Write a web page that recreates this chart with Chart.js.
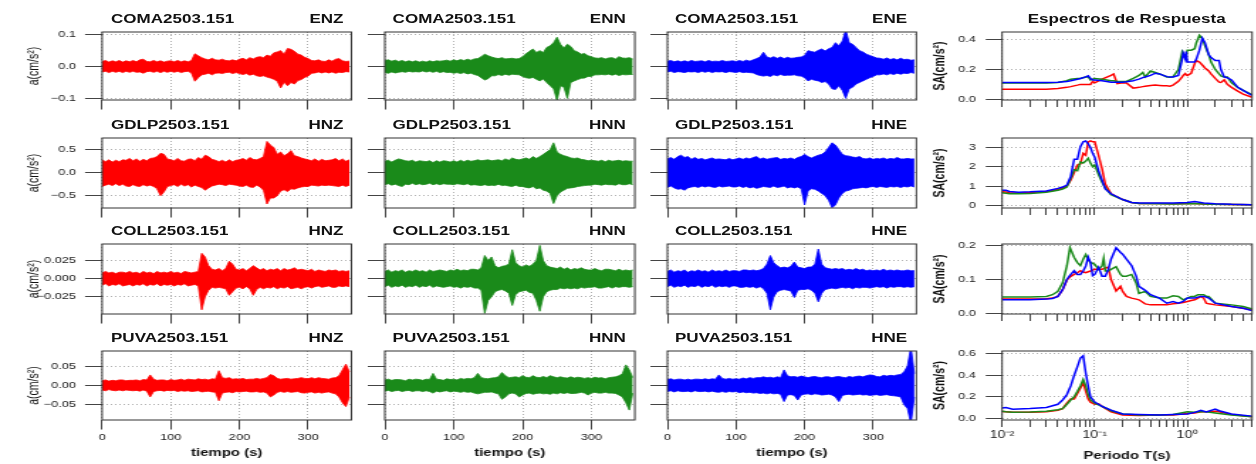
<!DOCTYPE html>
<html><head><meta charset="utf-8">
<script src="https://cdn.jsdelivr.net/npm/chart.js"></script>
<style>
html,body{margin:0;padding:0;background:#fff;}
body{width:1256px;height:464px;overflow:hidden;position:relative;}
#stage{position:absolute;left:0;top:0;width:884.5px;height:464px;transform:scaleX(1.42);transform-origin:0 0;}
.tt{position:absolute;font:bold 12px "Liberation Sans",Arial,sans-serif;color:#111;white-space:nowrap;line-height:12px;}
</style></head><body><div id="stage"></div>
<script>
// ---------------- DATA ----------------
const TIME = [0,5,10,15,20,25,30,35,40,45,50,55,60,65,70,75,80,85,90,95,100,105,110,115,120,125,130,135,140,145,150,155,160,165,170,175,180,185,190,195,200,205,210,215,220,225,230,235,240,245,250,255,260,265,270,275,280,285,290,295,300,305,310,315,320,325,330,335,340,345,350,355,360];
const TIME_MAX = 363;
const TIME_TICKS = [0,100,200,300];
const TIME_TICK_LABELS = ['0','100','200','300'];

// Row 1: COMA
const COMA_Z_UP = [.016,.019,.014,.018,.015,.019,.014,.018,.015,.019, .015,.021,.023,.016,.015,.019,.015,.018,.014,.017, .018,.015,.019,.015,.018,.015,.019,.04,.034,.028, .024,.021,.026,.021,.02,.023,.019,.018,.021,.018, .023,.026,.021,.028,.024,.029,.031,.028,.036,.032, .043,.046,.05,.039,.057,.054,.048,.039,.036,.029, .025,.019,.018,.021,.017,.016,.021,.017,.023,.025, .018,.016,.017];
const COMA_Z_LO = [-.017,-.015,-.019,-.015,-.018,-.015,-.019,-.015,-.018,-.015, -.018,-.017,-.021,-.016,-.015,-.018,-.015,-.019,-.015,-.018, -.015,-.018,-.015,-.019,-.016,-.015,-.02,-.046,-.035,-.026, -.024,-.021,-.026,-.021,-.02,-.022,-.019,-.018,-.022,-.019, -.022,-.025,-.022,-.027,-.024,-.029,-.031,-.029,-.033,-.036, -.04,-.046,-.067,-.049,-.06,-.05,-.055,-.044,-.041,-.034, -.03,-.021,-.02,-.017,-.02,-.017,-.02,-.017,-.021,-.018, -.019,-.016,-.017];
const COMA_N_UP = [.019,.021,.017,.02,.016,.019,.015,.018,.015,.018, .014,.017,.014,.018,.015,.018,.017,.018,.02,.017, .021,.018,.022,.019,.023,.02,.024,.025,.031,.039, .034,.03,.027,.025,.028,.024,.025,.026,.024,.025, .031,.04,.048,.055,.044,.05,.044,.06,.065,.075, .092,.07,.058,.07,.063,.05,.046,.039,.041,.034, .031,.027,.026,.028,.024,.027,.028,.024,.031,.027, .026,.028,.024];
const COMA_N_LO = [-.019,-.021,-.017,-.02,-.018,-.016,-.018,-.015,-.017,-.016, -.017,-.014,-.017,-.015,-.018,-.015,-.019,-.016,-.019,-.018, -.021,-.019,-.022,-.019,-.023,-.021,-.025,-.028,-.035,-.042, -.038,-.029,-.029,-.025,-.028,-.024,-.027,-.024,-.025,-.026, -.031,-.035,-.037,-.034,-.04,-.045,-.039,-.05,-.06,-.07, -.106,-.06,-.065,-.1,-.05,-.045,-.041,-.037,-.036,-.031, -.031,-.026,-.026,-.025,-.026,-.024,-.027,-.024,-.028,-.025, -.026,-.025,-.025];
const COMA_E_UP = [.017,.019,.015,.018,.015,.018,.015,.019,.016,.017, .018,.015,.019,.016,.017,.016,.019,.016,.017,.018, .016,.019,.016,.02,.017,.021,.025,.03,.045,.03, .027,.031,.026,.03,.025,.029,.026,.027,.029,.03, .035,.05,.047,.045,.051,.055,.049,.056,.06,.075, .065,.08,.115,.075,.07,.06,.05,.046,.039,.035, .031,.027,.026,.023,.027,.022,.025,.021,.026,.022, .023,.02,.021];
const COMA_E_LO = [-.017,-.015,-.019,-.016,-.017,-.019,-.016,-.017,-.016,-.019, -.015,-.018,-.015,-.019,-.016,-.017,-.016,-.019,-.016,-.017, -.019,-.016,-.019,-.018,-.019,-.02,-.025,-.028,-.03,-.028, -.031,-.026,-.029,-.025,-.028,-.027,-.027,-.026,-.029,-.03, -.035,-.045,-.04,-.043,-.045,-.05,-.047,-.055,-.07,-.072, -.06,-.075,-.1,-.07,-.065,-.055,-.05,-.045,-.04,-.035, -.031,-.026,-.026,-.023,-.026,-.022,-.025,-.021,-.024,-.021, -.022,-.019,-.021];

// Row 2: GDLP
const GDLP_Z_UP = [.28,.24,.28,.23,.27,.24,.28,.27,.31,.26, .3,.25,.29,.26,.31,.32,.35,.42,.4,.3, .28,.26,.31,.26,.25,.29,.3,.26,.33,.29, .38,.35,.29,.27,.24,.27,.23,.28,.24,.27, .28,.31,.27,.33,.29,.28,.31,.35,.68,.6, .55,.4,.45,.37,.41,.48,.37,.35,.32,.3, .28,.26,.3,.25,.29,.26,.27,.28,.31,.26, .3,.25,.28];
const GDLP_Z_LO = [-.3,-.27,-.25,-.28,-.24,-.28,-.25,-.29,-.3,-.26, -.29,-.3,-.26,-.29,-.27,-.3,-.35,-.5,-.42,-.3, -.28,-.26,-.3,-.25,-.29,-.26,-.31,-.27,-.3,-.32, -.38,-.33,-.29,-.27,-.25,-.26,-.28,-.25,-.26,-.27, -.29,-.3,-.27,-.31,-.32,-.27,-.31,-.38,-.68,-.55, -.55,-.5,-.4,-.37,-.41,-.35,-.36,-.33,-.31,-.3, -.3,-.27,-.28,-.29,-.27,-.28,-.27,-.28,-.29,-.3, -.27,-.3,-.27];
const GDLP_N_UP = [.25,.27,.23,.27,.3,.28,.26,.25,.27,.23, .26,.25,.24,.26,.22,.26,.23,.26,.25,.23, .26,.23,.27,.24,.27,.25,.26,.28,.26,.27, .28,.26,.27,.28,.26,.3,.27,.32,.29,.28, .3,.32,.29,.35,.31,.35,.4,.45,.5,.65, .45,.4,.37,.35,.32,.31,.32,.29,.28,.26, .27,.26,.25,.27,.24,.27,.25,.26,.27,.25, .26,.25,.25];
const GDLP_N_LO = [-.26,-.24,-.27,-.25,-.28,-.3,-.25,-.26,-.23,-.26, -.24,-.26,-.25,-.23,-.26,-.24,-.26,-.24,-.25,-.25, -.26,-.24,-.25,-.26,-.24,-.27,-.26,-.27,-.28,-.26, -.28,-.27,-.28,-.25,-.28,-.27,-.29,-.3,-.27,-.3, -.3,-.32,-.33,-.3,-.35,-.33,-.38,-.4,-.45,-.67, -.5,-.42,-.38,-.34,-.33,-.32,-.3,-.29,-.28,-.27, -.27,-.25,-.26,-.27,-.25,-.26,-.26,-.27,-.24,-.26, -.26,-.24,-.26];
const GDLP_E_UP = [.3,.33,.29,.35,.38,.33,.35,.29,.33,.29, .31,.28,.3,.32,.29,.3,.29,.28,.31,.28, .3,.32,.29,.32,.3,.33,.35,.3,.32,.29, .31,.32,.33,.29,.31,.3,.32,.29,.33,.35, .4,.35,.32,.35,.38,.4,.45,.55,.65,.6, .5,.4,.37,.36,.34,.33,.35,.31,.3,.32, .29,.31,.3,.32,.29,.31,.3,.33,.3,.3, .31,.3,.3];
const GDLP_E_LO = [-.32,-.29,-.33,-.36,-.35,-.38,-.33,-.31,-.3,-.32, -.29,-.31,-.29,-.31,-.32,-.29,-.31,-.3,-.29,-.31, -.31,-.29,-.32,-.3,-.33,-.31,-.34,-.32,-.3,-.31, -.32,-.29,-.32,-.31,-.29,-.33,-.31,-.33,-.31,-.35, -.7,-.4,-.35,-.36,-.4,-.45,-.5,-.6,-.76,-.7, -.55,-.45,-.4,-.38,-.35,-.34,-.33,-.32,-.33,-.31, -.3,-.32,-.3,-.31,-.32,-.3,-.31,-.3,-.32,-.3, -.31,-.29,-.31];

// Row 3: COLL
const COLL_Z_UP = [.008,.01,.008,.009,.007,.009,.009,.008,.01,.008, .009,.007,.01,.008,.009,.007,.01,.008,.009,.008, .01,.008,.009,.007,.01,.009,.008,.009,.01,.035, .03,.018,.013,.012,.014,.011,.014,.024,.02,.013, .012,.014,.011,.014,.018,.015,.012,.014,.011,.013, .012,.014,.011,.014,.012,.013,.015,.012,.013,.012, .011,.013,.01,.012,.011,.01,.012,.011,.012,.01, .011,.01,.011];
const COLL_Z_LO = [-.009,-.007,-.01,-.008,-.009,-.007,-.01,-.009,-.008,-.01, -.008,-.009,-.007,-.01,-.008,-.009,-.007,-.01,-.008,-.009, -.008,-.01,-.008,-.009,-.007,-.01,-.009,-.008,-.01,-.043, -.025,-.016,-.012,-.013,-.012,-.013,-.014,-.023,-.018,-.013, -.012,-.014,-.011,-.014,-.023,-.015,-.012,-.014,-.012,-.013, -.011,-.014,-.012,-.013,-.011,-.014,-.013,-.012,-.014,-.012, -.011,-.013,-.011,-.01,-.012,-.011,-.01,-.012,-.012,-.01, -.011,-.01,-.011];
const COLL_N_UP = [.01,.012,.009,.011,.01,.012,.009,.011,.01,.012, .01,.011,.009,.012,.01,.011,.012,.011,.01,.012, .011,.013,.011,.012,.011,.013,.013,.012,.015,.032, .025,.03,.018,.015,.017,.018,.02,.04,.022,.018, .016,.019,.017,.02,.025,.046,.025,.018,.016,.015, .014,.016,.013,.015,.012,.014,.013,.015,.013,.012, .012,.014,.012,.011,.013,.013,.012,.011,.013,.011, .012,.011,.012];
const COLL_N_LO = [-.011,-.009,-.012,-.01,-.011,-.009,-.012,-.01,-.011,-.009, -.012,-.01,-.011,-.009,-.012,-.01,-.011,-.012,-.011,-.01, -.012,-.011,-.013,-.011,-.012,-.011,-.013,-.013,-.016,-.048, -.03,-.025,-.018,-.016,-.015,-.017,-.02,-.037,-.022,-.018, -.017,-.016,-.019,-.02,-.03,-.045,-.025,-.018,-.016,-.015, -.015,-.013,-.014,-.013,-.014,-.013,-.014,-.012,-.013,-.012, -.012,-.011,-.013,-.013,-.012,-.011,-.013,-.011,-.012,-.011, -.011,-.012,-.011];
const COLL_E_UP = [.01,.012,.009,.011,.01,.012,.009,.011,.01,.012, .01,.011,.009,.012,.01,.011,.01,.012,.01,.011, .011,.01,.012,.012,.011,.012,.011,.012,.014,.02, .032,.022,.018,.015,.016,.015,.017,.023,.016,.015, .014,.016,.016,.02,.041,.02,.015,.014,.013,.014, .013,.014,.012,.013,.012,.014,.012,.013,.011,.012, .011,.012,.011,.013,.011,.012,.011,.012,.011,.011, .012,.011,.011];
const COLL_E_LO = [-.011,-.009,-.012,-.01,-.011,-.009,-.012,-.01,-.011,-.009, -.012,-.01,-.011,-.009,-.012,-.01,-.011,-.01,-.012,-.01, -.01,-.012,-.012,-.011,-.012,-.011,-.013,-.011,-.014,-.02, -.043,-.025,-.018,-.016,-.015,-.016,-.017,-.026,-.016,-.015, -.015,-.014,-.016,-.02,-.032,-.02,-.015,-.014,-.013,-.014, -.013,-.012,-.013,-.012,-.014,-.012,-.013,-.012,-.012,-.013, -.012,-.011,-.012,-.011,-.013,-.011,-.012,-.011,-.011,-.012, -.011,-.012,-.011];

// Row 4: PUVA
const PUVA_Z_UP = [.012,.014,.011,.013,.012,.014,.014,.012,.013,.013, .014,.012,.015,.014,.027,.016,.013,.014,.014,.012, .015,.013,.014,.016,.013,.016,.015,.014,.017,.015, .016,.014,.017,.016,.038,.02,.018,.02,.016,.017, .016,.018,.015,.016,.016,.018,.016,.018,.02,.028, .025,.018,.016,.017,.018,.016,.017,.018,.02,.018, .017,.02,.017,.02,.018,.017,.016,.019,.02,.025, .04,.055,.035];
const PUVA_Z_LO = [-.012,-.014,-.011,-.013,-.014,-.012,-.014,-.012,-.013,-.014, -.013,-.015,-.012,-.015,-.03,-.016,-.014,-.013,-.015,-.013, -.014,-.013,-.016,-.014,-.015,-.014,-.016,-.015,-.014,-.017, -.016,-.015,-.017,-.018,-.04,-.02,-.018,-.017,-.019,-.016, -.017,-.016,-.015,-.017,-.017,-.016,-.018,-.017,-.02,-.03, -.025,-.018,-.016,-.018,-.016,-.018,-.017,-.016,-.019,-.02, -.018,-.017,-.02,-.018,-.02,-.018,-.017,-.02,-.022,-.03, -.045,-.055,-.03];
const PUVA_N_UP = [.014,.016,.013,.015,.015,.014,.012,.016,.014,.016, .015,.013,.016,.015,.031,.016,.015,.013,.017,.015, .016,.014,.018,.016,.018,.017,.02,.031,.02,.018, .017,.019,.02,.022,.033,.025,.02,.021,.022,.02, .025,.021,.02,.025,.021,.02,.023,.02,.025,.022, .02,.022,.02,.019,.022,.019,.021,.02,.018,.02, .018,.021,.019,.02,.017,.02,.021,.022,.025,.03, .053,.04,.02];
const PUVA_N_LO = [-.015,-.013,-.016,-.014,-.013,-.016,-.014,-.013,-.016,-.014, -.014,-.016,-.014,-.016,-.02,-.015,-.017,-.015,-.014,-.017, -.015,-.016,-.018,-.016,-.018,-.017,-.02,-.022,-.02,-.018, -.018,-.017,-.02,-.022,-.036,-.03,-.022,-.02,-.022,-.03, -.025,-.021,-.02,-.023,-.021,-.02,-.022,-.021,-.023,-.02, -.022,-.019,-.021,-.019,-.021,-.021,-.02,-.018,-.02,-.025, -.02,-.018,-.02,-.02,-.018,-.02,-.02,-.021,-.025,-.03, -.045,-.064,-.02];
const PUVA_E_UP = [.015,.017,.014,.016,.016,.014,.016,.014,.016,.016, .015,.017,.015,.017,.016,.027,.018,.016,.018,.016, .017,.016,.019,.017,.02,.018,.02,.02,.022,.02, .021,.019,.022,.02,.04,.025,.022,.023,.021,.024, .022,.02,.022,.023,.021,.02,.022,.022,.02,.022, .023,.021,.02,.023,.021,.023,.024,.022,.025,.027, .026,.023,.022,.026,.024,.026,.025,.027,.028,.035, .05,.1,.03];
const PUVA_E_LO = [-.016,-.014,-.017,-.014,-.016,-.016,-.015,-.017,-.014,-.016, -.016,-.015,-.017,-.015,-.017,-.018,-.016,-.018,-.016,-.017, -.016,-.019,-.017,-.019,-.018,-.02,-.019,-.021,-.02,-.022, -.02,-.022,-.021,-.023,-.042,-.025,-.024,-.026,-.038,-.025, -.023,-.022,-.024,-.022,-.023,-.025,-.024,-.023,-.025,-.03, -.042,-.026,-.024,-.023,-.025,-.024,-.023,-.025,-.024,-.026, -.025,-.024,-.026,-.025,-.024,-.026,-.027,-.028,-.03,-.05, -.06,-.1,-.03];

// time-series y axes per row
const TS_YRANGE = [[-0.105,0.1085],[-0.767,0.754],[-0.0488,0.0479],[-0.0896,0.0889]];
const TS_YTICKS = [[-0.1,0,0.1],[-0.5,0,0.5],[-0.025,0,0.025],[-0.05,0,0.05]];
const TS_YLABELS = [['\u22120.1','0.0','0.1'],['\u22120.5','0.0','0.5'],['\u22120.025','0.000','0.025'],['\u22120.05','0.00','0.05']];

// response spectra
const R1_T = [0.01,0.02,0.03,0.04,0.05,0.055,0.065,0.07,0.08,0.085,0.09,0.095,0.1,0.12,0.15,0.16,0.175,0.2,0.22,0.26,0.28,0.3,0.33,0.35,0.4,0.45,0.5,0.55,0.6,0.65,0.7,0.8,0.88,0.9,0.95,0.97,1.0,1.1,1.2,1.25,1.35,1.45,1.55,1.7,1.8,2.0,2.2,2.3,2.5,2.7,3.0,3.5,4.0,5.0];
const R1_SA_Z = [0.068,0.068,0.068,0.072,0.08, 0.085,0.095,0.1,0.1,0.1, 0.1,0.12,0.11,0.135,0.16, 0.17,0.105,0.11,0.11,0.075, 0.078,0.08,0.085,0.088,0.092, 0.095,0.093,0.09,0.09,0.088, 0.095,0.12,0.15,0.16,0.172, 0.165,0.16,0.175,0.24,0.26, 0.25,0.23,0.21,0.19,0.17, 0.14,0.115,0.113,0.13,0.1, 0.08,0.055,0.035,0.013];
const R1_SA_N = [0.11,0.11,0.11,0.112,0.125, 0.135,0.14,0.14,0.15,0.152, 0.13,0.135,0.14,0.135,0.125, 0.125,0.12,0.12,0.12,0.14, 0.15,0.16,0.18,0.15,0.19, 0.18,0.17,0.16,0.15,0.148, 0.15,0.2,0.32,0.31,0.28, 0.29,0.33,0.33,0.34,0.38, 0.43,0.41,0.36,0.3,0.25, 0.2,0.17,0.157,0.15,0.15, 0.11,0.08,0.06,0.03];
const R1_SA_E = [0.113,0.113,0.113,0.115,0.12, 0.125,0.135,0.14,0.15,0.157, 0.14,0.13,0.13,0.125,0.115, 0.115,0.115,0.115,0.118,0.125, 0.13,0.135,0.145,0.15,0.16, 0.175,0.17,0.16,0.152,0.15, 0.15,0.16,0.27,0.31,0.27, 0.32,0.25,0.25,0.25,0.27, 0.33,0.41,0.38,0.3,0.28, 0.26,0.26,0.2,0.15,0.145, 0.13,0.08,0.06,0.025];

const R2_T = [0.01,0.011,0.012,0.015,0.02,0.03,0.04,0.045,0.05,0.055,0.06,0.065,0.07,0.075,0.08,0.085,0.09,0.095,0.1,0.11,0.12,0.13,0.15,0.2,0.25,0.3,0.5,0.7,1.0,1.2,1.5,2.0,3.0,5.0];
const R2_SA_Z = [0.7,0.69,0.65,0.64,0.66, 0.72,0.82,0.9,1.0,1.3, 1.7,2.1,2.15,2.7,2.6, 3.3,3.35,3.3,3.3,2.6, 1.9,1.1,0.6,0.3,0.15, 0.1,0.1,0.08,0.09,0.09, 0.07,0.06,0.04,0.03];
const R2_SA_N = [0.65,0.63,0.6,0.6,0.62, 0.68,0.78,0.85,0.95,1.4, 1.85,1.8,2.25,2.2,2.3, 2.45,2.2,2.0,2.1,1.6, 1.2,0.9,0.55,0.3,0.15, 0.1,0.08,0.07,0.08,0.1, 0.07,0.05,0.04,0.03];
const R2_SA_E = [0.78,0.78,0.72,0.68,0.7, 0.75,0.88,0.95,1.05,1.5, 2.4,2.4,3.05,3.3,3.35, 3.2,3.0,2.7,2.5,1.8, 1.3,0.85,0.6,0.3,0.15, 0.12,0.12,0.12,0.15,0.2, 0.12,0.08,0.05,0.03];

const R3_T = [0.01,0.02,0.03,0.035,0.04,0.045,0.05,0.054,0.06,0.065,0.07,0.075,0.08,0.085,0.09,0.095,0.1,0.11,0.12,0.125,0.13,0.14,0.15,0.17,0.19,0.2,0.22,0.25,0.28,0.3,0.35,0.4,0.5,0.6,0.7,0.8,0.9,1.0,1.1,1.2,1.3,1.4,1.5,1.6,1.7,2.0,3.0,4.0,5.0];
const R3_SA_Z = [0.042,0.042,0.043,0.045,0.05, 0.07,0.098,0.108,0.115,0.12, 0.126,0.122,0.12,0.123,0.125, 0.128,0.13,0.13,0.13,0.132, 0.134,0.136,0.1,0.066,0.08, 0.065,0.05,0.045,0.042,0.04, 0.028,0.025,0.025,0.025,0.028, 0.03,0.032,0.035,0.038,0.04, 0.045,0.05,0.045,0.03,0.028, 0.025,0.02,0.015,0.01];
const R3_SA_N = [0.048,0.048,0.05,0.055,0.065, 0.09,0.14,0.194,0.165,0.15, 0.141,0.16,0.174,0.16,0.15, 0.148,0.145,0.13,0.14,0.163, 0.125,0.125,0.13,0.138,0.115, 0.11,0.11,0.115,0.09,0.059, 0.065,0.05,0.045,0.045,0.052, 0.05,0.04,0.045,0.05,0.05, 0.055,0.055,0.055,0.05,0.05, 0.03,0.025,0.02,0.013];
const R3_SA_E = [0.04,0.04,0.042,0.044,0.05, 0.07,0.1,0.112,0.126,0.115, 0.115,0.125,0.14,0.166,0.15, 0.111,0.115,0.136,0.11,0.11, 0.11,0.13,0.16,0.194,0.18, 0.175,0.16,0.141,0.11,0.08, 0.068,0.055,0.045,0.03,0.035, 0.03,0.035,0.045,0.045,0.045, 0.048,0.05,0.05,0.048,0.045, 0.03,0.02,0.015,0.008];

const R4_T = [0.01,0.011,0.013,0.02,0.03,0.04,0.045,0.05,0.055,0.06,0.065,0.07,0.075,0.08,0.085,0.09,0.1,0.11,0.12,0.15,0.2,0.3,0.5,0.7,1.0,1.2,1.4,1.6,2.0,2.2,3.0,5.0];
const R4_SA_Z = [0.062,0.06,0.055,0.055,0.06, 0.075,0.09,0.14,0.18,0.18, 0.23,0.28,0.33,0.25,0.18, 0.15,0.13,0.135,0.11,0.06, 0.03,0.025,0.03,0.03,0.045, 0.05,0.06,0.06,0.065,0.06, 0.035,0.015];
const R4_SA_N = [0.065,0.06,0.055,0.058,0.065, 0.08,0.09,0.13,0.17,0.2, 0.25,0.3,0.36,0.3,0.22, 0.17,0.14,0.125,0.11,0.07, 0.04,0.03,0.03,0.035,0.06, 0.055,0.06,0.06,0.05,0.045, 0.03,0.015];
const R4_SA_E = [0.095,0.1,0.085,0.09,0.1, 0.13,0.17,0.22,0.3,0.4, 0.48,0.56,0.58,0.42,0.3, 0.2,0.15,0.13,0.11,0.075, 0.04,0.035,0.03,0.035,0.04, 0.055,0.075,0.06,0.085,0.07, 0.04,0.02];

const SP_YRANGE = [[-0.005,0.452],[-0.14,3.5],[-0.002,0.205],[-0.016,0.625]];
const SP_YTICKS = [[0,0.2,0.4],[0,1,2,3],[0,0.1,0.2],[0,0.2,0.4,0.6]];
const SP_YLABELS = [['0.0','0.2','0.4'],['0','1','2','3'],['0.0','0.1','0.2'],['0.0','0.2','0.4','0.6']];
const LOG_TICKS = [0.01,0.02,0.03,0.04,0.05,0.06,0.07,0.08,0.09,0.1,0.2,0.3,0.4,0.5,0.6,0.7,0.8,0.9,1,2,3,4,5];
const LOG_MAJOR = [0.01,0.1,1];
const LOG_LABELS = ['10\u207B\u00B2','10\u207B\u00B9','10\u2070'];

const STATIONS = ['COMA2503.151','GDLP2503.151','COLL2503.151','PUVA2503.151'];
const COMPONENTS = [['ENZ','ENN','ENE'],['HNZ','HNN','HNE'],['HNZ','HNN','HNE'],['HNZ','HNN','HNE']];

// ---------------- LAYOUT ----------------
const S = 1.42;
const FONT = '"Liberation Sans", Arial, Helvetica, sans-serif';
const COLS_X = [[102.7,352],[384.3,634.3],[666.7,915.7],[1001.7,1251.7]];
const ROWS_Y = [[32,100],[138,208],[244,314],[351,420]];
const RED = '#ff0000', GREEN = '#1a8a1a', BLUE = '#0000ff';
const GRID = '#b0b0b0', TICKC = '#444', LABC = '#222';
const stage = document.getElementById('stage');

const framePlugin = {id:'frame', afterDraw(chart){
  const {ctx, chartArea:a} = chart;
  ctx.save(); ctx.strokeStyle = '#333'; ctx.lineWidth = 1; ctx.setLineDash([]);
  ctx.strokeRect(a.left, a.top, a.right - a.left, a.bottom - a.top);
  ctx.restore();
}};

function makeCanvas(col,row,L,Bm){
  const pl = COLS_X[col][0]/S, pr = COLS_X[col][1]/S;
  const pt = ROWS_Y[row][0], pb = ROWS_Y[row][1];
  const TM = 14, RM = 6;
  const w = Math.ceil(L + (pr-pl) + RM), h = Math.ceil(TM + (pb-pt) + Bm);
  const c = document.createElement('canvas');
  c.width = w; c.height = h;
  Object.assign(c.style,{position:'absolute',left:(pl-L)+'px',top:(pt-TM)+'px',width:w+'px',height:h+'px'});
  stage.appendChild(c);
  return {c, padding:{left:0, top:TM, right:w - L - (pr-pl), bottom:h - TM - (pb-pt) - Bm}};
}

function gridOpts(len){
  return {color:GRID, lineWidth:1, drawTicks:true, tickLength:len, tickColor:TICKC, tickWidth:1, tickBorderDash:[]};
}

function timeChart(col,row,up,lo,color){
  const L = col===0 ? 53.9 : 14;
  const Bm = row===3 ? 39.3 : 14;
  const {c,padding} = makeCanvas(col,row,L,Bm);
  const yt = TS_YTICKS[row], ytl = TS_YLABELS[row];
  new Chart(c,{
    type:'line',
    data:{datasets:[
      {data:TIME.map((t,i)=>({x:t,y:up[i]})), borderColor:color, backgroundColor:color, borderWidth:0.8, pointRadius:0, fill:'+1', tension:0},
      {data:TIME.map((t,i)=>({x:t,y:lo[i]})), borderColor:color, backgroundColor:color, borderWidth:0.8, pointRadius:0, fill:false, tension:0}
    ]},
    options:{
      responsive:false, animation:false, events:[],
      layout:{padding},
      plugins:{legend:{display:false}, tooltip:{enabled:false}, title:{display:false}},
      scales:{
        x:{type:'linear', min:0, max:TIME_MAX, bounds:'data',
          afterBuildTicks:s=>{s.ticks = TIME_TICKS.map(v=>({value:v}));},
          afterFit:s=>{s.height = Bm;},
          ticks:{display:row===3, autoSkip:false, maxRotation:0, padding:2.5, color:LABC, font:{family:FONT,size:9}, callback:(v,i)=>TIME_TICK_LABELS[i]},
          grid:gridOpts(9.5), border:{display:false, dash:[1,2]},
          title:{display:row===3, text:'tiempo (s)', color:'#111', font:{family:FONT,size:10.5,weight:'bold'}, padding:0}},
        y:{type:'linear', min:TS_YRANGE[row][0], max:TS_YRANGE[row][1], bounds:'data',
          afterBuildTicks:s=>{s.ticks = yt.map(v=>({value:v}));},
          afterFit:s=>{s.width = L;},
          ticks:{display:col===0, autoSkip:false, padding:6.3, color:LABC, font:{family:FONT,size:9}, callback:(v,i)=>ytl[i]},
          grid:gridOpts(12), border:{display:false, dash:[1,2]},
          title:{display:col===0, text:'a(cm/s\u00B2)', color:'#111', font:{family:FONT,size:10.5}, padding:0}}
      }
    },
    plugins:[framePlugin]
  });
}

function specChart(row,T,z,n,e){
  const L = 49.7;
  const Bm = row===3 ? 42.3 : 14;
  const {c,padding} = makeCanvas(3,row,L,Bm);
  const yt = SP_YTICKS[row], ytl = SP_YLABELS[row];
  const ds = (vals,color)=>({data:T.map((t,i)=>({x:t,y:vals[i]})), borderColor:color, backgroundColor:color, borderWidth:1.5, pointRadius:0, fill:false, tension:0});
  new Chart(c,{
    type:'line',
    data:{datasets:[ds(e,BLUE), ds(n,GREEN), ds(z,RED)]},
    options:{
      responsive:false, animation:false, events:[],
      layout:{padding},
      plugins:{legend:{display:false}, tooltip:{enabled:false}, title:{display:false}},
      scales:{
        x:{type:'logarithmic', min:0.01, max:5, bounds:'data',
          afterBuildTicks:s=>{s.ticks = LOG_TICKS.map(v=>({value:v, major:LOG_MAJOR.includes(v)}));},
          afterFit:s=>{s.height = Bm;},
          ticks:{display:row===3, autoSkip:false, maxRotation:0, padding:2.5, color:LABC, font:{family:FONT,size:10}, major:{enabled:false},
            callback:(v,i)=>{const k = LOG_MAJOR.indexOf(LOG_TICKS[i]); return k>=0 ? LOG_LABELS[k] : '';}},
          grid:{...gridOpts(7), color:ctx=>(ctx.tick && LOG_MAJOR.includes(ctx.tick.value)) ? GRID : 'rgba(0,0,0,0)'},
          border:{display:false, dash:[1,2]},
          title:{display:row===3, text:'Periodo T(s)', color:'#111', font:{family:FONT,size:10.5,weight:'bold'}, padding:0}},
        y:{type:'linear', min:SP_YRANGE[row][0], max:SP_YRANGE[row][1], bounds:'data',
          afterBuildTicks:s=>{s.ticks = yt.map(v=>({value:v}));},
          afterFit:s=>{s.width = L;},
          ticks:{display:true, autoSkip:false, padding:7, color:LABC, font:{family:FONT,size:9}, callback:(v,i)=>ytl[i]},
          grid:gridOpts(11.5), border:{display:false, dash:[1,2]},
          title:{display:true, text:'SA(cm/s\u00B2)', color:'#111', font:{family:FONT,size:10.5,weight:'bold'}, padding:0}}
      }
    },
    plugins:[framePlugin]
  });
}

function addText(txt, x, yc, align){
  const d = document.createElement('div');
  d.className = 'tt'; d.textContent = txt;
  d.style.left = x + 'px'; d.style.top = (yc - 6) + 'px';
  if (align === 'right') d.style.transform = 'translateX(-100%)';
  if (align === 'center') d.style.transform = 'translateX(-50%)';
  stage.appendChild(d);
}

// ---------------- BUILD ----------------
const TS = [
  [[COMA_Z_UP,COMA_Z_LO],[COMA_N_UP,COMA_N_LO],[COMA_E_UP,COMA_E_LO]],
  [[GDLP_Z_UP,GDLP_Z_LO],[GDLP_N_UP,GDLP_N_LO],[GDLP_E_UP,GDLP_E_LO]],
  [[COLL_Z_UP,COLL_Z_LO],[COLL_N_UP,COLL_N_LO],[COLL_E_UP,COLL_E_LO]],
  [[PUVA_Z_UP,PUVA_Z_LO],[PUVA_N_UP,PUVA_N_LO],[PUVA_E_UP,PUVA_E_LO]]
];
const COLORS = [RED, GREEN, BLUE];
for (let r = 0; r < 4; r++){
  for (let cc = 0; cc < 3; cc++){
    timeChart(cc, r, TS[r][cc][0], TS[r][cc][1], COLORS[cc]);
    addText(STATIONS[r], (COLS_X[cc][0] + 8.3)/S, ROWS_Y[r][0] - 13, 'left');
    addText(COMPONENTS[r][cc], (COLS_X[cc][1] - 8.5)/S, ROWS_Y[r][0] - 13, 'right');
  }
}
specChart(0, R1_T, R1_SA_Z, R1_SA_N, R1_SA_E);
specChart(1, R2_T, R2_SA_Z, R2_SA_N, R2_SA_E);
specChart(2, R3_T, R3_SA_Z, R3_SA_N, R3_SA_E);
specChart(3, R4_T, R4_SA_Z, R4_SA_N, R4_SA_E);
addText('Espectros de Respuesta', 1126.7/S, 19, 'center');
</script>
</body></html>
